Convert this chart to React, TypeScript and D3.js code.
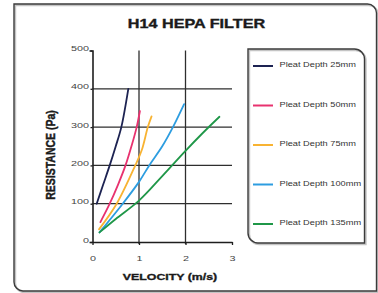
import React, { useEffect, useRef } from 'react'
import * as d3 from 'd3'

// axis ticks
const velocityTicks = [0, 1, 2, 3]
const resistanceTicks = [0, 100, 200, 300, 400, 500]

// series as [velocity m/s, resistance Pa]
const seriesNames = ['Pleat Depth 25mm', 'Pleat Depth 50mm', 'Pleat Depth 75mm', 'Pleat Depth 100mm', 'Pleat Depth 135mm']
const seriesColors = ['#1d2352', '#e8326f', '#f8b332', '#2d9de0', '#1f9748']
const depth25 = [[0.09, 100], [0.23, 150], [0.37, 200], [0.5, 250], [0.62, 300], [0.77, 400]]
const depth50 = [[0.17, 52], [0.37, 100], [0.55, 150], [0.71, 200], [0.85, 255], [0.95, 300], [1.02, 342]]
const depth75 = [[0.14, 33], [0.52, 100], [0.92, 200], [1.06, 240], [1.19, 300], [1.27, 328]]
const depth100 = [[0.15, 25], [0.65, 100], [1.0, 157], [1.22, 200], [1.5, 250], [1.73, 300], [1.97, 360]]
const depth135 = [[0.15, 25], [0.5, 60], [1.0, 108], [1.5, 172], [2.0, 238], [2.35, 282], [2.73, 327]]
const allSeries = [depth25, depth50, depth75, depth100, depth135]

const W = 378
const H = 293
const SX = 1.35 // the picture is stretched sideways, text too

const framePath = (x0: number, y0: number, x1: number, y1: number, r: number) =>
    `M${x0},${y0}H${x1 - r}A${r},${r} 0 0 1 ${x1},${y0 + r}V${y1}H${x0 + r}A${r},${r} 0 0 1 ${x0},${y1 - r}Z`

function HepaChart() {
    const ref = useRef<SVGSVGElement>(null)

    useEffect(() => {
        document.body.style.margin = '0'
        const svg = d3.select(ref.current)
        svg.selectAll('*').remove()

        const font = "'Liberation Sans', Arial, sans-serif"

        // outer frame + legend frame, with a soft shadow
        const boxes = [
            framePath(14, 4, 376.5, 291, 9),
            framePath(248, 49, 364.5, 243, 10)
        ]
        boxes.forEach(p => {
            svg.append('path').attr('d', p).attr('fill', 'none')
                .attr('stroke', '#c4c4c4').attr('stroke-width', 2)
                .attr('transform', 'translate(1.2,1.2)')
            svg.append('path').attr('d', p).attr('fill', 'none')
                .attr('stroke', '#3b3b3b').attr('stroke-width', 1.4)
        })

        const x = d3.scaleLinear().domain([0, 3]).range([92.5, 232])
        const y = d3.scaleLinear().domain([0, 500]).range([242, 50.5])

        // grid
        svg.append('g').selectAll('line')
            .data(resistanceTicks.filter(d => d > 0 && d < 500))
            .join('line')
            .attr('x1', x(0)).attr('x2', x(3))
            .attr('y1', d => y(d)).attr('y2', d => y(d))
            .attr('stroke', '#2e2e2e').attr('stroke-width', 1.3)
        svg.append('g').selectAll('line')
            .data(velocityTicks.filter(d => d > 0 && d < 3))
            .join('line')
            .attr('x1', d => x(d)).attr('x2', d => x(d))
            .attr('y1', y(500)).attr('y2', y(0) + 2)
            .attr('stroke', '#2e2e2e').attr('stroke-width', 1.3)

        // axes
        const yAxis = svg.append('g')
            .attr('transform', `translate(${x(0)},0)`)
            .call(d3.axisLeft(y).tickValues(resistanceTicks).tickFormat(d3.format('d')).tickSizeInner(2).tickSizeOuter(3))
        const xAxis = svg.append('g')
            .attr('transform', `translate(0,${y(0)})`)
            .call(d3.axisBottom(x).tickValues(velocityTicks).tickFormat(d3.format('d')).tickSizeInner(3).tickSizeOuter(0))

        ;[yAxis, xAxis].forEach(a => {
            a.select('.domain').attr('stroke', '#1e1e1e').attr('stroke-width', 1.6)
            a.selectAll('.tick line').attr('stroke', '#1e1e1e').attr('stroke-width', 1.3)
            a.selectAll('.tick text')
                .attr('fill', '#444').attr('font-family', font).attr('font-size', 8)
                .attr('x', null).attr('y', null).attr('dy', null)
        })
        yAxis.selectAll('.tick text').attr('text-anchor', 'end')
            .attr('transform', `translate(-3.5,0) scale(${SX},1)`)
        xAxis.selectAll('.tick text').attr('text-anchor', 'middle')
            .attr('transform', `translate(0,18.5) scale(${SX},1)`)

        // curves
        const line = d3.line<number[]>()
            .x(d => x(d[0]))
            .y(d => y(d[1]))
            .curve(d3.curveCatmullRom.alpha(0.5))

        svg.append('g').selectAll('path')
            .data(allSeries)
            .join('path')
            .attr('d', d => line(d))
            .attr('fill', 'none')
            .attr('stroke', (d, i) => seriesColors[i])
            .attr('stroke-width', 1.8)
            .attr('stroke-linecap', 'round')

        // titles
        const bold = (t: d3.Selection<SVGTextElement, unknown, null, undefined>) =>
            t.attr('font-family', font).attr('font-weight', 'bold')
                .attr('fill', '#1a1a1a').attr('stroke', '#1a1a1a').attr('stroke-width', 0.35)
        svg.append('text')
            .attr('transform', `translate(196.5,28.3) scale(${SX},1)`)
            .attr('text-anchor', 'middle').attr('font-size', 12)
            .call(bold)
            .text('H14 HEPA FILTER')
        svg.append('text')
            .attr('transform', `translate(170,279.5) scale(${SX - 0.05},1)`)
            .attr('text-anchor', 'middle').attr('font-size', 9.5)
            .call(bold)
            .text('VELOCITY (m/s)')
        svg.append('text')
            .attr('transform', `translate(55,155) scale(${SX - 0.05},1) rotate(-90)`)
            .attr('text-anchor', 'middle').attr('font-size', 10.5)
            .call(bold)
            .text('RESISTANCE (Pa)')

        // legend
        const ly = d3.scalePoint().domain(seriesNames).range([66, 224])
        const legend = svg.append('g').selectAll('g')
            .data(seriesNames)
            .join('g')
            .attr('transform', d => `translate(0,${ly(d)})`)
        legend.append('line')
            .attr('x1', 253).attr('x2', 273)
            .attr('stroke', (d, i) => seriesColors[i])
            .attr('stroke-width', 2)
        legend.append('text')
            .attr('transform', `translate(279.5,1.2) scale(1.32,1)`)
            .attr('font-family', font).attr('font-size', 7)
            .attr('fill', '#333')
            .text(d => d)
    }, [])

    return <svg ref={ref} width={W} height={H} style={{ display: 'block', background: '#fff' }} />
}

export default function App() {
    return <HepaChart />
}
